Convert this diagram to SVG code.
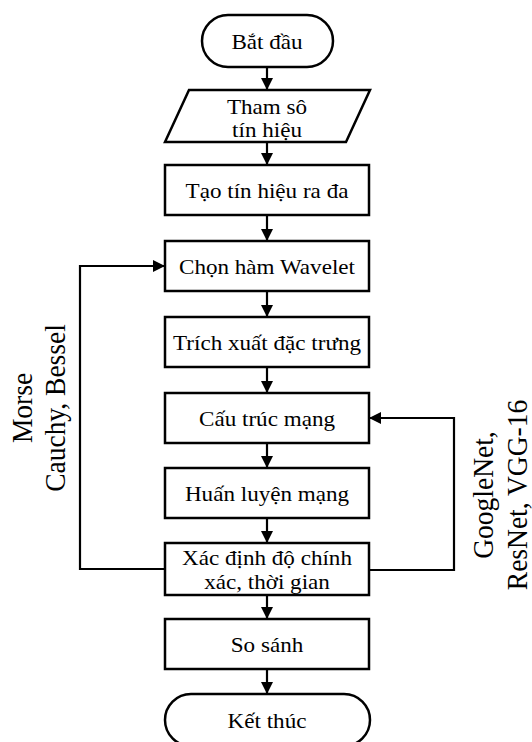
<svg xmlns="http://www.w3.org/2000/svg" width="532" height="742" viewBox="0 0 532 742">
<defs>
<marker id="ah" viewBox="0 0 12 12" refX="12" refY="6" markerWidth="12" markerHeight="12" markerUnits="userSpaceOnUse" orient="auto">
<path d="M0,0 L12,6 L0,12 Z" fill="#000"/>
</marker>
<style>
.shape{fill:#fff;stroke:#000;stroke-width:2.5}
.t{font-family:"Liberation Serif","Times New Roman",serif;font-size:21px;fill:#000;text-anchor:middle}
.r{font-family:"Liberation Serif","Times New Roman",serif;font-size:27.5px;fill:#000;text-anchor:middle}
.c{fill:none;stroke:#000;stroke-width:2.2;marker-end:url(#ah)}
</style>
</defs>
<rect width="532" height="742" fill="#fff"/>
<g id="connectors">
<line class="c" x1="267" y1="67" x2="267" y2="90"/>
<line class="c" x1="267" y1="142" x2="267" y2="165"/>
<line class="c" x1="267" y1="215" x2="267" y2="241"/>
<line class="c" x1="267" y1="291" x2="267" y2="317"/>
<line class="c" x1="267" y1="367" x2="267" y2="393"/>
<line class="c" x1="267" y1="443" x2="267" y2="468"/>
<line class="c" x1="267" y1="518" x2="267" y2="543"/>
<line class="c" x1="267" y1="595" x2="267" y2="619"/>
<line class="c" x1="267" y1="669" x2="267" y2="694"/>
<polyline class="c" points="165,569 80,569 80,266 165,266"/>
<polyline class="c" points="369,570 454,570 454,418 369,418"/>
</g>
<g id="start">
<rect class="shape" x="202" y="15" width="131" height="52" rx="26" ry="26"/>
<text class="t" transform="translate(267,49) scale(1.1,1)">Bắt đầu</text>
</g>
<g id="params">
<polygon class="shape" points="189,90 370,90 346,142 165,142"/>
<text class="t" transform="translate(267,114) scale(1.1,1)">Tham sô</text>
<text class="t" transform="translate(267,137) scale(1.1,1)">tín hiệu</text>
</g>
<g id="gen">
<rect class="shape" x="165" y="165" width="204" height="50"/>
<text class="t" transform="translate(267,198) scale(1.1,1)">Tạo tín hiệu ra đa</text>
</g>
<g id="wavelet">
<rect class="shape" x="165" y="241" width="204" height="50"/>
<text class="t" transform="translate(267,274) scale(1.1,1)">Chọn hàm Wavelet</text>
</g>
<g id="feature">
<rect class="shape" x="165" y="317" width="204" height="50"/>
<text class="t" transform="translate(267,350) scale(1.1,1)">Trích xuất đặc trưng</text>
</g>
<g id="net">
<rect class="shape" x="165" y="393" width="204" height="50"/>
<text class="t" transform="translate(267,426) scale(1.1,1)">Cấu trúc mạng</text>
</g>
<g id="train">
<rect class="shape" x="165" y="468" width="204" height="50"/>
<text class="t" transform="translate(267,501) scale(1.1,1)">Huấn luyện mạng</text>
</g>
<g id="eval">
<rect class="shape" x="165" y="543" width="204" height="52"/>
<text class="t" transform="translate(267,565) scale(1.1,1)">Xác định độ chính</text>
<text class="t" transform="translate(267,589) scale(1.1,1)">xác, thời gian</text>
</g>
<g id="compare">
<rect class="shape" x="165" y="619" width="204" height="50"/>
<text class="t" transform="translate(267,652) scale(1.1,1)">So sánh</text>
</g>
<g id="end">
<rect class="shape" x="165" y="694" width="205" height="52" rx="26" ry="26"/>
<text class="t" transform="translate(267,728) scale(1.1,1)">Kết thúc</text>
</g>
<g id="label-left">
<text class="r" transform="translate(32,408) scale(1.09,1) rotate(-90)">Morse</text>
<text class="r" transform="translate(65,408) scale(1.09,1) rotate(-90)">Cauchy, Bessel</text>
</g>
<g id="label-right">
<text class="r" transform="translate(493,495) scale(1.09,1) rotate(-90)">GoogleNet,</text>
<text class="r" transform="translate(527,495) scale(1.09,1) rotate(-90)">ResNet, VGG-16</text>
</g>
</svg>
